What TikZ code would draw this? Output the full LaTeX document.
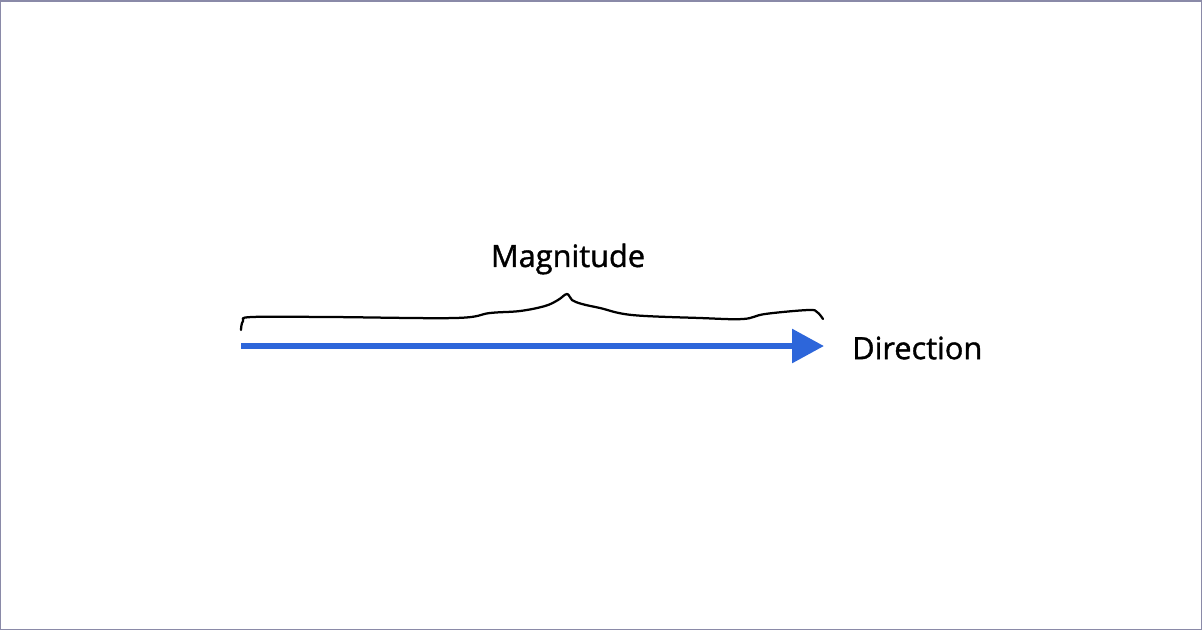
\documentclass[tikz,border=0pt]{standalone}
\usepackage{fontspec}
\setmainfont{Open Sans}
\newfontfamily\labelfont[FakeBold=1.2]{Open Sans}
\usepackage{xcolor}
\usepackage{tikz}
\usetikzlibrary{arrows.meta}
\definecolor{vecBlue}{HTML}{2D66DA}
\definecolor{frameGray}{HTML}{8A8AA8}

\begin{document}
\begin{tikzpicture}[x=0.02cm, y=-0.02cm]
  \useasboundingbox (0,0) rectangle (1202,630);
  \draw[frameGray, line width=0.03cm] (0.75,0.75) rectangle (1201.25,629.25);
  % the vector
  \coordinate (tail) at (241,346);
  \coordinate (tip) at (824,346);
  \draw[vecBlue, line width=0.12cm, -{Triangle[length=0.64cm, width=0.66cm]}] (tail) -- (tip);
  \node[font=\labelfont\fontsize{17.5}{20}\selectfont, anchor=west] (direction) at (846,348) {Direction};
  % hand drawn brace
  \draw[black, line width=0.045cm, line cap=round, line join=round]
    plot[smooth, tension=0.6] coordinates {(241,330) (243,321) (252,317) (330,317) (455,318)
      (490,313) (520,311) (545,306) (558,300) (567,294) (572,300) (582,304) (600,308)
      (632,315) (700,318) (743,319) (765,314) (808,310) (817,312) (823,319)};
  \node[font=\labelfont\fontsize{17.5}{20}\selectfont] (magnitude) at (568,259) {Magnitude};
\end{tikzpicture}
\end{document}
